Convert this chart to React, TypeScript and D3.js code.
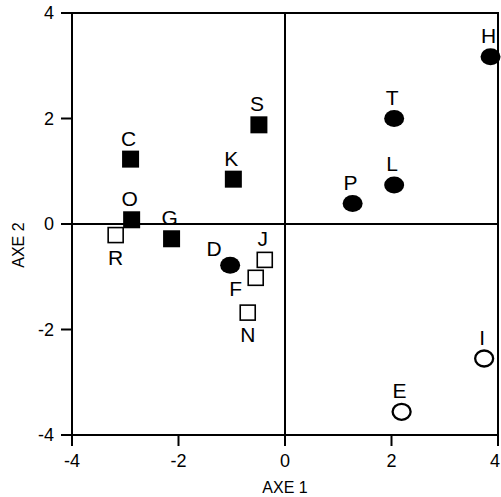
import React from "react";
import * as d3 from "d3";

const names = ["C", "O", "R", "G", "K", "S", "D", "J", "F", "N", "T", "L", "P", "H", "I", "E"];
const axe1 = [-2.9, -2.88, -3.18, -2.13, -0.97, -0.49, -1.03, -0.38, -0.55, -0.7, 2.05, 2.05, 1.27, 3.86, 3.74, 2.19];
const axe2 = [1.23, 0.08, -0.21, -0.28, 0.85, 1.88, -0.78, -0.68, -1.02, -1.68, 2.0, 0.74, 0.39, 3.17, -2.55, -3.56];
const kinds = ["fs", "fs", "os", "fs", "fs", "fs", "fc", "os", "os", "os", "fc", "fc", "fc", "fc", "oc", "oc"];
const labelSide = ["top", "top", "bottom", "top", "top", "top", "topleft", "top", "bottomleft", "bottom", "top", "top", "top", "top", "top", "top"];
const xTicks = [-4, -2, 0, 2, 4];
const yTicks = [4, 2, 0, -2, -4];
const xTitle = "AXE 1";
const yTitle = "AXE 2";

const W = 501;
const H = 497;
const font = "'Liberation Sans', Arial, sans-serif";

const offsets: Record<string, [number, number]> = {
  top: [-2, -21],
  bottom: [0, 22],
  topleft: [-16, -17],
  bottomleft: [-20, 11],
};

export default function App() {
  const x = d3.scaleLinear().domain([-4, 4]).range([72, 498]);
  const y = d3.scaleLinear().domain([-4, 4]).range([435, 13]);
  const pts = names.map((n, i) => ({ n, x: axe1[i], y: axe2[i], k: kinds[i], s: labelSide[i] }));

  return (
    <svg width={W} height={H} style={{ position: "absolute", left: 0, top: 0, background: "#fff" }} fontFamily={font}>
      <rect x={0} y={0} width={W} height={H} fill="#fff" />
      {/* frame */}
      <rect x={x(-4)} y={y(4)} width={x(4) - x(-4)} height={y(-4) - y(4)} fill="none" stroke="#000" strokeWidth={2} />
      {/* zero lines */}
      <line x1={x(0)} x2={x(0)} y1={y(4)} y2={y(-4)} stroke="#000" strokeWidth={2} />
      <line x1={x(-4)} x2={x(4)} y1={y(0)} y2={y(0)} stroke="#000" strokeWidth={2} />
      {/* x ticks */}
      {xTicks.map((t, i) => (
        <g key={"xt" + t}>
          <line x1={x(t)} x2={x(t)} y1={y(-4)} y2={y(-4) + 11} stroke="#000" strokeWidth={2} />
          <text
            x={i === xTicks.length - 1 ? W - 1 : x(t)}
            y={y(-4) + 26}
            textAnchor={i === xTicks.length - 1 ? "end" : "middle"}
            dominantBaseline="central"
            fontSize={18}
          >
            {t}
          </text>
        </g>
      ))}
      {/* y ticks */}
      {yTicks.map((t) => (
        <g key={"yt" + t}>
          <line x1={x(-4) - 11} x2={x(-4)} y1={y(t)} y2={y(t)} stroke="#000" strokeWidth={2} />
          <text x={x(-4) - 18} y={y(t)} textAnchor="end" dominantBaseline="central" fontSize={18}>
            {t}
          </text>
        </g>
      ))}
      <text x={x(0)} y={487} textAnchor="middle" dominantBaseline="central" fontSize={16}>
        {xTitle}
      </text>
      <text
        transform={`translate(18,${y(-0.4)}) rotate(-90)`}
        textAnchor="middle"
        dominantBaseline="central"
        fontSize={16}
      >
        {yTitle}
      </text>
      {/* points */}
      {pts.map((p) => {
        const cx = x(p.x);
        const cy = y(p.y);
        let mark;
        if (p.k === "fs") mark = <rect x={cx - 8.5} y={cy - 8.5} width={17} height={17} fill="#000" />;
        else if (p.k === "os")
          mark = <rect x={cx - 7.5} y={cy - 7.5} width={15} height={15} fill="#fff" stroke="#000" strokeWidth={1.6} />;
        else if (p.k === "fc") mark = <ellipse cx={cx} cy={cy} rx={10} ry={8.5} fill="#000" />;
        else mark = <ellipse cx={cx} cy={cy} rx={9} ry={8} fill="#fff" stroke="#000" strokeWidth={2.3} />;
        const [dx, dy] = offsets[p.s];
        return (
          <g key={p.n}>
            {mark}
            <text x={cx + dx} y={cy + dy} textAnchor="middle" dominantBaseline="central" fontSize={21}>
              {p.n}
            </text>
          </g>
        );
      })}
    </svg>
  );
}
